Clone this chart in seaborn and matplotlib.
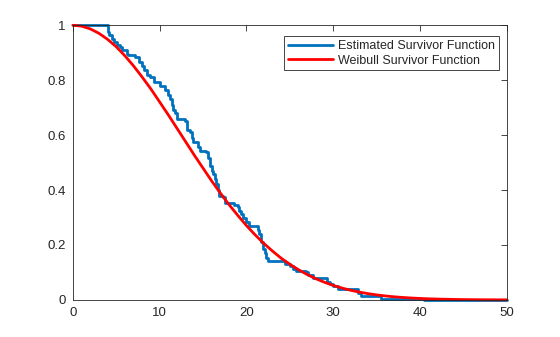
import matplotlib
matplotlib.use("Agg")
import matplotlib.pyplot as plt
import seaborn as sns
import pandas as pd

km_x = [0.0, 4.0, 4.2, 4.5, 4.8, 5.1, 5.4, 5.7, 6.2, 6.4, 7.2, 7.6, 8.0, 8.2, 8.5, 8.9,
        9.3, 10.1, 10.6, 11.0, 11.2, 11.4, 11.6, 11.75, 12.0, 12.9, 13.1, 13.5, 13.7, 13.8,
        14.4, 14.6, 15.4, 15.6, 15.8, 16.0, 16.2, 16.4, 16.55, 16.7, 16.9, 17.3, 17.5,
        18.6, 19.0, 19.2, 19.4, 19.6, 20.0, 20.3, 21.3, 21.5, 21.7, 21.9, 22.1, 22.3, 22.5,
        24.4, 25.0, 25.4, 25.7, 26.9, 27.1, 27.7, 29.3, 29.6, 30.0, 30.5, 32.9, 33.2,
        35.5, 40.5, 50.0]
km_y = [1.0, 0.975, 0.963, 0.95, 0.94, 0.93, 0.92, 0.91, 0.897, 0.89, 0.883, 0.866, 0.85,
        0.836, 0.82, 0.81, 0.793, 0.78, 0.763, 0.745, 0.732, 0.71, 0.69, 0.679, 0.66, 0.653,
        0.617, 0.61, 0.59, 0.574, 0.556, 0.544, 0.538, 0.515, 0.489, 0.47, 0.459, 0.44,
        0.422, 0.40, 0.38, 0.373, 0.352, 0.345, 0.337, 0.325, 0.313, 0.30, 0.282, 0.27,
        0.255, 0.24, 0.21, 0.185, 0.17, 0.154, 0.142, 0.13, 0.124, 0.113, 0.105, 0.10,
        0.091, 0.081, 0.065, 0.057, 0.051, 0.039, 0.025, 0.013, 0.004, 0.0, 0.0]

# Fitted Weibull survivor curve
wb_x = list(range(0, 51))
wb_y = [1.0, 0.997, 0.987, 0.971, 0.949, 0.922, 0.889, 0.852, 0.811, 0.768, 0.721,
        0.674, 0.625, 0.576, 0.527, 0.480, 0.433, 0.389, 0.347, 0.308, 0.271, 0.237,
        0.206, 0.178, 0.152, 0.130, 0.110, 0.0926, 0.0773, 0.0642, 0.0529, 0.0434,
        0.0353, 0.0286, 0.0229, 0.0183, 0.0145, 0.0114, 0.0090, 0.0070, 0.0054, 0.0041,
        0.0032, 0.0024, 0.0018, 0.0013, 0.0010, 0.0007, 0.0005, 0.0004, 0.0003]

x_ticks = [0, 10, 20, 30, 40, 50]
y_ticks = [0, 0.2, 0.4, 0.6, 0.8, 1]
y_tick_labels = ["0", "0.2", "0.4", "0.6", "0.8", "1"]

sns.set_style("white")
plt.rcParams['font.family'] = ['Liberation Sans', 'DejaVu Sans']

fig = plt.figure(figsize=(5.6, 3.37), dpi=100)
ax = fig.add_axes([0.13, 0.11, 0.775, 0.815])

km = pd.DataFrame({"t": km_x, "S": km_y})
wb = pd.DataFrame({"t": wb_x, "S": wb_y})

sns.lineplot(data=km, x="t", y="S", ax=ax, color="#0072BD", linewidth=2.0,
             drawstyle="steps-post", estimator=None, label="Estimated Survivor Function",
             clip_on=False)
sns.lineplot(data=wb, x="t", y="S", ax=ax, color="#FF0000", linewidth=2.0,
             estimator=None, label="Weibull Survivor Function", clip_on=False)

ax.set_xlim(0, 50)
ax.set_ylim(0, 1)
ax.set_xticks(x_ticks)
ax.set_yticks(y_ticks)
ax.set_yticklabels(y_tick_labels)
ax.set_xlabel("")
ax.set_ylabel("")
ax.tick_params(direction="in", length=4, width=0.6, top=True, right=True,
               labelsize=9.5, colors="#262626", pad=5)
for s in ax.spines.values():
    s.set_visible(True)
    s.set_color("#262626")
    s.set_linewidth(0.6)

leg = ax.legend(loc="upper right", bbox_to_anchor=(0.982, 0.96), fontsize=9,
                frameon=True, fancybox=False, framealpha=1, edgecolor="#262626",
                borderpad=0.3, labelspacing=0.2, handlelength=3.6, handletextpad=0.4,
                borderaxespad=0)
leg.get_frame().set_linewidth(0.6)

fig.savefig("out.png", dpi=100)
